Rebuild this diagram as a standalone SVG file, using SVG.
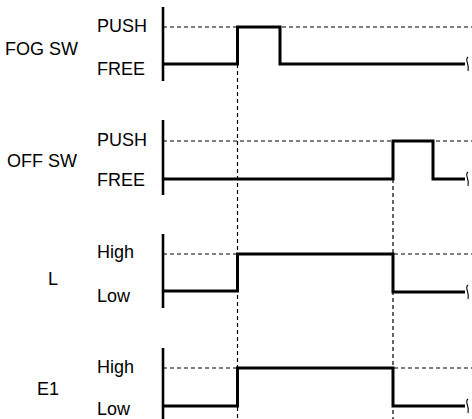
<svg xmlns="http://www.w3.org/2000/svg" width="472" height="419" viewBox="0 0 472 419">
<style>
text{font-family:"Liberation Sans",Arial,sans-serif;font-size:18px;fill:#000}
.ax{stroke:#000;stroke-width:2.6;fill:none}
.sig{stroke:#000;stroke-width:3;fill:none;stroke-linejoin:miter;stroke-linecap:butt}
.dash{stroke:#000;stroke-width:1.2;stroke-dasharray:4,3;fill:none}
.brk{stroke:#000;stroke-width:1.1;fill:none}
</style>
<rect width="472" height="419" fill="#fff"/>
<g id="connectors">
<line class="dash" x1="237.5" y1="64" x2="237.5" y2="419"/>
<line class="dash" x1="393" y1="179" x2="393" y2="419"/>
</g>
<g id="fog-sw">
<text x="5" y="55">FOG SW</text>
<text x="97" y="32">PUSH</text>
<text x="97" y="75">FREE</text>
<line class="dash" x1="163" y1="27" x2="472" y2="27"/>
<line class="ax" x1="163" y1="7" x2="163" y2="81"/>
<path class="sig" d="M163,64 H237.5 V27 H280 V64 H465"/>
<path class="brk" d="M468,57 C464,60 470,64 468,71"/>
</g>
<g id="off-sw">
<text x="7" y="167">OFF SW</text>
<text x="97" y="146">PUSH</text>
<text x="97" y="186">FREE</text>
<line class="dash" x1="163" y1="141" x2="472" y2="141"/>
<line class="ax" x1="163" y1="120" x2="163" y2="195"/>
<path class="sig" d="M163,179 H393 V141 H433 V179 H465"/>
<path class="brk" d="M468,172 C464,175 470,179 468,186"/>
</g>
<g id="l">
<text x="48" y="285">L</text>
<text x="97" y="258">High</text>
<text x="97" y="302">Low</text>
<line class="dash" x1="163" y1="254" x2="472" y2="254"/>
<line class="ax" x1="163" y1="234" x2="163" y2="308"/>
<path class="sig" d="M163,291 H237.5 V254 H393 V292 H465"/>
<path class="brk" d="M468,285 C464,288 470,292 468,299"/>
</g>
<g id="e1">
<text x="37" y="395">E1</text>
<text x="97" y="373">High</text>
<text x="97" y="415">Low</text>
<line class="dash" x1="163" y1="368" x2="472" y2="368"/>
<line class="ax" x1="163" y1="348" x2="163" y2="419"/>
<path class="sig" d="M163,406 H237.5 V368 H393 V406 H465"/>
<path class="brk" d="M468,399 C464,402 470,406 468,413"/>
</g>
</svg>
